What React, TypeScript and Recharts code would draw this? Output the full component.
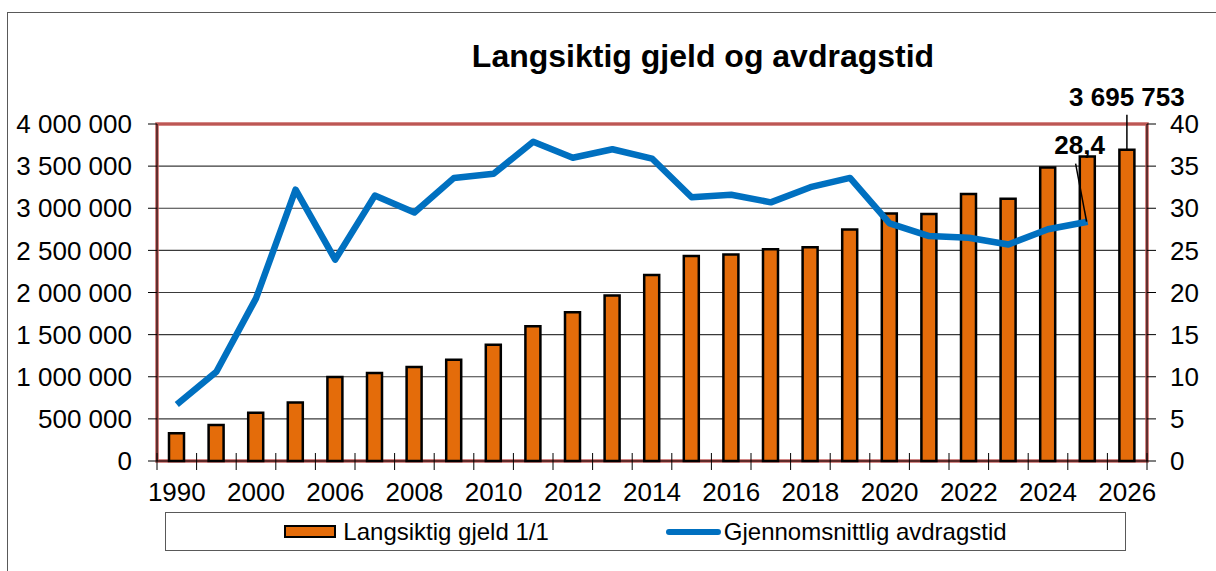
import {
    ComposedChart, Bar, Line, XAxis, YAxis, CartesianGrid, Legend, LabelList, ReferenceArea
} from 'recharts';

const FONT = '"Liberation Sans", Arial, sans-serif';

// categories (only every other one gets a label)
const years = [
    '1990', '1995', '2000', '2005', '2006', '2007', '2008', '2009', '2010', '2011', '2012', '2013',
    '2014', '2015', '2016', '2017', '2018', '2019', '2020', '2021', '2022', '2023', '2024', '2025', '2026',
];

// Langsiktig gjeld 1/1 (kr)
const gjeld = [
    330000, 426000, 572000, 694000, 998000, 1045000, 1116000, 1203000, 1381000, 1598000, 1767000, 1964000,
    2209000, 2434000, 2450000, 2513000, 2537000, 2749000, 2939000, 2931000, 3168000, 3112000, 3483000, 3613000, 3695753,
];

// Gjennomsnittlig avdragstid (år)
const avdragstid: (number | null)[] = [
    6.7, 10.6, 19.3, 32.2, 23.9, 31.5, 29.5, 33.6, 34.1, 37.9, 36.0, 37.0,
    35.9, 31.3, 31.6, 30.7, 32.5, 33.6, 28.2, 26.7, 26.5, 25.7, 27.5, 28.4, null,
];

const leftTicks = [0, 500000, 1000000, 1500000, 2000000, 2500000, 3000000, 3500000, 4000000];
const rightTicks = [0, 5, 10, 15, 20, 25, 30, 35, 40];

const data = years.map((year, i) => ({ year, gjeld: gjeld[i], avdragstid: avdragstid[i] }));

const lastGjeld = gjeld[gjeld.length - 1];
const lastAvdrag = avdragstid.filter((v) => v !== null).slice(-1)[0];

const fmt = (n: number) => String(n).replace(/\B(?=(\d{3})+(?!\d))/g, ' ');

function YearTick(props: any) {
    const { x, y, payload, index } = props;
    const half = payload?.offset ?? 19.8;
    const isLast = index === years.length - 1;
    return (
        <g>
            <line x1={x - half} x2={x - half} y1={y - 8} y2={y + 9} stroke="#000" strokeWidth={1} />
            {isLast && <line x1={x + half} x2={x + half} y1={y - 8} y2={y + 9} stroke="#000" strokeWidth={1} />}
            {index % 2 === 0 && (
                <text x={x} y={y + 40} textAnchor="middle" fontSize={26} fontFamily={FONT} fill="#000">
                    {payload.value}
                </text>
            )}
        </g>
    );
}

function GjeldLabel(props: any) {
    const { x, y, width, value } = props;
    if (value !== lastGjeld) return null;
    const cx = Number(x) + Number(width) / 2;
    const top = Number(y);
    return (
        <g>
            <line x1={cx} x2={cx} y1={top - 35} y2={top} stroke="#000" strokeWidth={1.5} />
            <text x={cx} y={top - 44} textAnchor="middle" fontSize={26} fontWeight="bold" fontFamily={FONT} fill="#000">
                {fmt(value)}
            </text>
        </g>
    );
}

function AvdragLabel(props: any) {
    const { x, y, value } = props;
    if (value !== lastAvdrag) return null;
    const px = Number(x);
    const py = Number(y);
    return (
        <g>
            <line x1={px - 12} y1={py - 58} x2={px - 1} y2={py} stroke="#000" strokeWidth={1.5} />
            <text x={px - 8} y={py - 68} textAnchor="middle" fontSize={26} fontWeight="bold" fontFamily={FONT} fill="#000">
                {String(value).replace('.', ',')}
            </text>
        </g>
    );
}

const renderLegend = () => (
    <div
        style={{
            boxSizing: 'border-box', width: 961, height: 39, border: '1px solid #595959',
            display: 'flex', alignItems: 'center', justifyContent: 'center', gap: 117,
            fontFamily: FONT, fontSize: 24, color: '#000', background: '#fff',
        }}
    >
        <span style={{ display: 'flex', alignItems: 'center' }}>
            <span style={{ width: 48, height: 9, background: '#E46C0A', border: '2px solid #000', marginRight: 7 }} />
            Langsiktig gjeld 1/1
        </span>
        <span style={{ display: 'flex', alignItems: 'center' }}>
            <span style={{ width: 55, height: 6, background: '#0070C0', borderRadius: 3, marginRight: 3 }} />
            Gjennomsnittlig avdragstid
        </span>
    </div>
);

export default function App() {
    return (
        <div style={{ position: 'fixed', left: 0, top: 0, width: 1216, height: 571, overflow: 'hidden', background: '#fff' }}>
            <div
                style={{
                    position: 'absolute', left: 7, top: 12, width: 1300, height: 700,
                    borderLeft: '1px solid #595959', borderTop: '1px solid #595959',
                }}
            />
            <div
                style={{
                    position: 'absolute', left: 403, top: 40, width: 600, lineHeight: '32px',
                    textAlign: 'center', fontFamily: FONT, fontSize: 32, fontWeight: 'bold', color: '#000',
                }}
            >
                Langsiktig gjeld og avdragstid
            </div>
            <div style={{ position: 'absolute', left: 0, top: 0 }}>
                <ComposedChart
                    width={1216}
                    height={571}
                    data={data}
                    margin={{ top: 124, right: 0, bottom: 20, left: 0 }}
                    barGap={0}
                >
                    <CartesianGrid yAxisId="left" vertical={false} stroke="#3a3a3a" strokeWidth={1.2} />
                    <ReferenceArea
                        yAxisId="left"
                        x1="1990"
                        x2="2026"
                        y1={0}
                        y2={4000000}
                        fill="none"
                        fillOpacity={0}
                        stroke="#C0504D"
                        strokeWidth={3.5}
                        strokeOpacity={0.9}
                    />
                    <XAxis
                        dataKey="year"
                        interval={0}
                        height={51}
                        tickLine={false}
                        tickSize={0}
                        tickMargin={0}
                        axisLine={{ stroke: '#000' }}
                        tick={<YearTick />}
                    />
                    <YAxis
                        yAxisId="left"
                        domain={[0, 4000000]}
                        ticks={leftTicks}
                        tickFormatter={fmt}
                        width={157}
                        tickSize={9}
                        tickMargin={16}
                        axisLine={{ stroke: '#000' }}
                        tickLine={{ stroke: '#000' }}
                        tick={{ fontSize: 26, fill: '#000', fontFamily: FONT }}
                    />
                    <YAxis
                        yAxisId="right"
                        orientation="right"
                        domain={[0, 40]}
                        ticks={rightTicks}
                        width={69}
                        tickSize={9}
                        tickMargin={14}
                        axisLine={{ stroke: '#000' }}
                        tickLine={{ stroke: '#000' }}
                        tick={{ fontSize: 26, fill: '#000', fontFamily: FONT, textAnchor: 'start' }}
                    />
                    <Bar
                        yAxisId="left"
                        dataKey="gjeld"
                        name="Langsiktig gjeld 1/1"
                        fill="#E46C0A"
                        stroke="#000"
                        strokeWidth={2.5}
                        barSize={15}
                        isAnimationActive={false}
                    >
                        <LabelList dataKey="gjeld" content={<GjeldLabel />} />
                    </Bar>
                    <Line
                        yAxisId="right"
                        dataKey="avdragstid"
                        name="Gjennomsnittlig avdragstid"
                        stroke="#0070C0"
                        strokeWidth={6.5}
                        strokeLinejoin="round"
                        dot={false}
                        activeDot={false}
                        isAnimationActive={false}
                    >
                        <LabelList dataKey="avdragstid" content={<AvdragLabel />} />
                    </Line>
                    <Legend verticalAlign="bottom" content={renderLegend} wrapperStyle={{ left: 165, bottom: 20, width: 961 }} />
                </ComposedChart>
            </div>
        </div>
    );
}
